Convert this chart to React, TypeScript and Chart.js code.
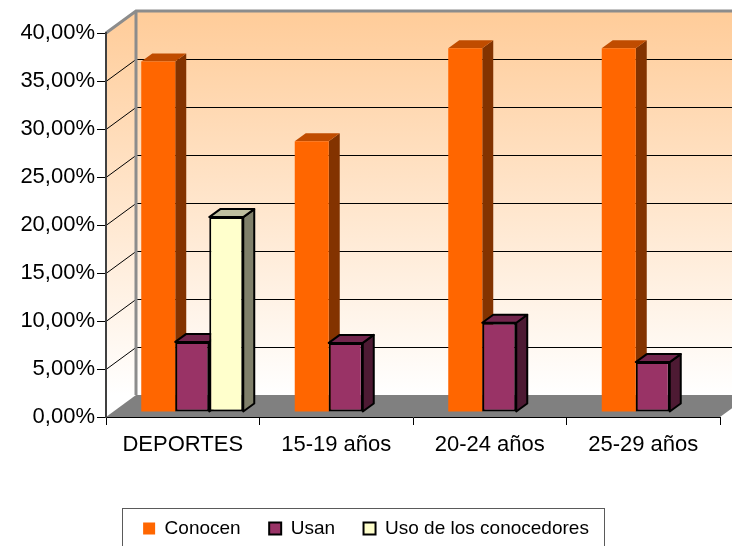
import React, { useEffect, useRef } from 'react';
import { Chart, registerables } from 'chart.js';

Chart.register(...registerables);

// ---------- data ----------
const categories = ['DEPORTES', '15-19 años', '20-24 años', '25-29 años'];
const seriesNames = ['Conocen', 'Usan', 'Uso de los conocedores'];
const conocen = [36.5, 28.2, 37.9, 37.9];
const usan = [7.3, 7.2, 9.3, 5.2];
const usoConocedores: (number | null)[] = [20.3, null, null, null];
const yMin = 0;
const yMax = 40;
const yStep = 5;

// ---------- styles ----------
const frontColors = ['#FF6600', '#993366', '#FFFFCC'];
const sideColors = ['#833300', '#4D1A33', '#80806A'];
const topColors = ['#C04C00', '#73264D', '#BFBF9F'];
const borderColors = ['#FF6600', '#000000', '#000000'];
const borderWidths = [0, 2, 2];

const FONT = "'Liberation Sans', Arial, sans-serif";
const CANVAS_W = 732;
const CANVAS_H = 546;
const PLOT_LEFT = 106;
const PLOT_TOP = 33;
const PLOT_BOTTOM = 417;
const PLOT_RIGHT_PAD = 12;
const WALL_DEPTH = [30, -22];
const BAR_DEPTH = [11, -8];
const BAR_SHIFT = [9.5, -5];

const fmtPct = (v: number) => v.toFixed(2).replace('.', ',') + '%';

const threeDPlugin = {
  id: 'threeD',
  beforeDraw(chart: any) {
    const { ctx, chartArea } = chart;
    const { left, right, top, bottom } = chartArea;
    const W = chart.width;
    const [dx, dy] = WALL_DEPTH;
    const y = chart.scales.y;
    ctx.save();
    const g = ctx.createLinearGradient(0, top + dy, 0, bottom + dy);
    g.addColorStop(0, '#FFCC99');
    g.addColorStop(1, '#FFFFFF');
    ctx.fillStyle = g;
    ctx.fillRect(left + dx, top + dy, W - (left + dx), bottom - top);
    ctx.beginPath();
    ctx.moveTo(left, top);
    ctx.lineTo(left + dx, top + dy);
    ctx.lineTo(left + dx, bottom + dy);
    ctx.lineTo(left, bottom);
    ctx.closePath();
    ctx.fill();
    ctx.strokeStyle = '#000';
    ctx.lineWidth = 1;
    y.ticks.forEach((t: any) => {
      if (t.value <= y.min || t.value >= y.max) return;
      const py = Math.round(y.getPixelForValue(t.value)) + 0.5;
      ctx.beginPath();
      ctx.moveTo(left, py);
      ctx.lineTo(left + dx, py + dy);
      ctx.lineTo(W, py + dy);
      ctx.stroke();
    });
    ctx.fillStyle = '#808080';
    ctx.beginPath();
    ctx.moveTo(left, bottom);
    ctx.lineTo(right, bottom);
    ctx.lineTo(right + dx, bottom + dy);
    ctx.lineTo(left + dx, bottom + dy);
    ctx.closePath();
    ctx.fill();
    ctx.strokeStyle = '#8C8C8C';
    ctx.lineWidth = 3;
    ctx.beginPath();
    ctx.moveTo(left, top);
    ctx.lineTo(left + dx, top + dy);
    ctx.lineTo(W, top + dy);
    ctx.moveTo(left + dx, top + dy);
    ctx.lineTo(left + dx, bottom + dy);
    ctx.stroke();
    ctx.restore();
  },
  beforeDatasetsDraw(chart: any) {
    const { ctx } = chart;
    const [bx, by] = BAR_DEPTH;
    ctx.save();
    ctx.translate(BAR_SHIFT[0], BAR_SHIFT[1]);
    chart.data.datasets.forEach((ds: any, i: number) => {
      const meta = chart.getDatasetMeta(i);
      if (!chart.isDatasetVisible(i)) return;
      meta.data.forEach((el: any, j: number) => {
        const v = ds.data[j];
        if (v === null || v === undefined) return;
        const { x, y, base, width } = el.getProps(['x', 'y', 'base', 'width'], true);
        const l = x - width / 2;
        const r = x + width / 2;
        const stroke = borderWidths[i] > 0;
        ctx.lineJoin = 'round';
        ctx.beginPath();
        ctx.moveTo(r, y);
        ctx.lineTo(r + bx, y + by);
        ctx.lineTo(r + bx, base + by);
        ctx.lineTo(r, base);
        ctx.closePath();
        ctx.fillStyle = sideColors[i];
        ctx.fill();
        if (stroke) { ctx.strokeStyle = '#000'; ctx.lineWidth = 2; ctx.stroke(); }
        ctx.beginPath();
        ctx.moveTo(l, y);
        ctx.lineTo(l + bx, y + by);
        ctx.lineTo(r + bx, y + by);
        ctx.lineTo(r, y);
        ctx.closePath();
        ctx.fillStyle = topColors[i];
        ctx.fill();
        if (stroke) { ctx.strokeStyle = '#000'; ctx.lineWidth = 2; ctx.stroke(); }
        el.draw(ctx, chart.chartArea);
      });
    });
    ctx.restore();
    return false;
  },
  afterDraw(chart: any) {
    const lg = chart.legend;
    if (!lg || !lg.legendHitBoxes || !lg.legendHitBoxes.length) return;
    const hb = lg.legendHitBoxes;
    const first = hb[0];
    const last = hb[hb.length - 1];
    const cy = first.top + first.height / 2;
    const x0 = first.left - 21;
    const x1 = last.left + last.width + 15;
    const ctx = chart.ctx;
    ctx.save();
    ctx.strokeStyle = '#5A5A5A';
    ctx.lineWidth = 1;
    ctx.strokeRect(Math.round(x0) + 0.5, Math.round(cy - 20.5) + 0.5, Math.round(x1 - x0), 60);
    ctx.restore();
  },
};

export default function App() {
  const ref = useRef<HTMLCanvasElement | null>(null);
  useEffect(() => {
    document.body.style.margin = '0';
    const canvas = ref.current;
    if (!canvas) return;
    const datasets = [conocen, usan, usoConocedores].map((data, i) => ({
      label: seriesNames[i],
      data,
      backgroundColor: frontColors[i],
      borderColor: borderColors[i],
      borderWidth: borderWidths[i],
      borderSkipped: false,
      categoryPercentage: 0.6645,
      barPercentage: 1,
    }));
    const chart = new Chart(canvas, {
      type: 'bar',
      data: { labels: categories, datasets },
      plugins: [threeDPlugin],
      options: {
        responsive: false,
        animation: false,
        layout: { padding: { top: PLOT_TOP, right: PLOT_RIGHT_PAD, left: 12, bottom: -2 } },
        plugins: {
          tooltip: { enabled: false },
          legend: {
            position: 'bottom',
            labels: {
              boxWidth: 12,
              boxHeight: 12,
              padding: 28.5,
              color: '#000',
              font: { family: FONT, size: 19 },
            },
          },
        },
        scales: {
          x: {
            grid: { drawOnChartArea: false, drawTicks: true, tickLength: 8, color: '#000', offset: true },
            border: { display: true, color: '#000', width: 1 },
            ticks: { color: '#000', font: { family: FONT, size: 22 }, padding: 7, maxRotation: 0 },
            afterFit: (s: any) => {
              const lh = s.chart.legend ? s.chart.legend.height : 0;
              s.height = s.chart.height + 2 - lh - PLOT_BOTTOM;
            },
          },
          y: {
            min: yMin,
            max: yMax,
            grid: { drawOnChartArea: false, drawTicks: true, tickLength: 9, color: '#000' },
            border: { display: true, color: '#404040', width: 2 },
            ticks: {
              stepSize: yStep,
              color: '#000',
              font: { family: FONT, size: 22 },
              padding: 2,
              callback: (v: any) => fmtPct(Number(v)),
            },
            afterFit: (s: any) => { s.width = PLOT_LEFT - 12; },
          },
        },
      },
    });
    return () => chart.destroy();
  }, []);
  return <canvas ref={ref} width={CANVAS_W} height={CANVAS_H} style={{ display: 'block' }} />;
}
